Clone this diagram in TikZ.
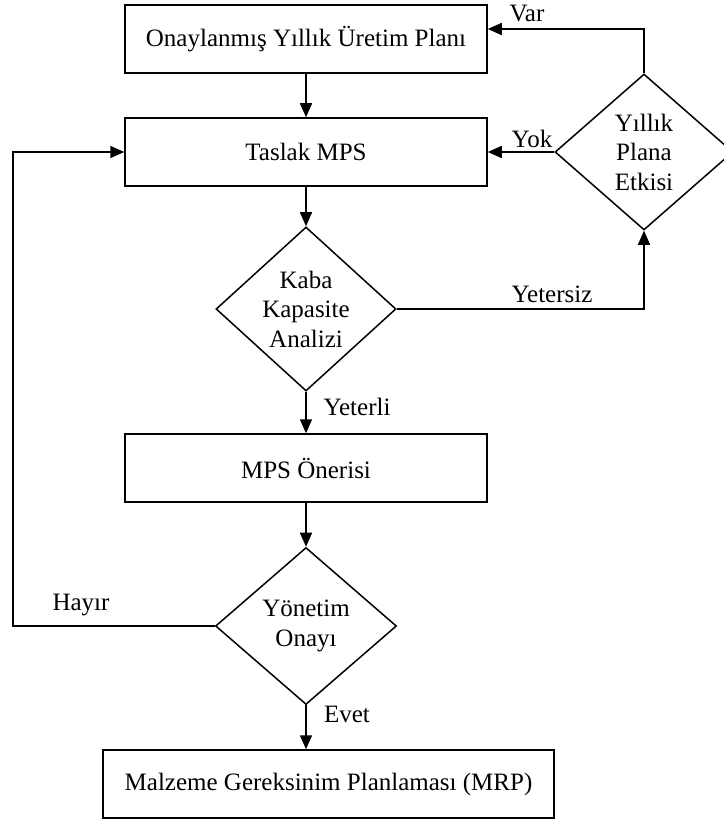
\documentclass[tikz,border=0pt]{standalone}
\usepackage{fontspec}
\setmainfont{Liberation Serif}
\usetikzlibrary{arrows.meta,shapes.geometric}

\tikzset{
  kutu/.style={draw, line width=1.5pt, minimum width=362pt, minimum height=68pt, inner sep=0pt},
  karar/.style={draw, diamond, line width=1.5pt, inner sep=0pt, align=center},
  ok/.style={line width=1.5pt, -{Triangle[length=14pt,width=12pt]}},
  etiket/.style={anchor=base, inner sep=0pt}
}

\begin{document}
\begin{tikzpicture}[x=1pt, y=-1pt, font=\fontsize{25}{29.5}\selectfont]
            \useasboundingbox (0,0) rectangle (723,821);

            \node[kutu] (plan) at (306,39) {Onaylanmış Yıllık Üretim Planı};
            \node[kutu] (taslak) at (306,152) {Taslak MPS};
            \node[karar, minimum width=180pt, minimum height=158pt] (kaba) at (306,309) {Kaba\\Kapasite\\Analizi};
            \node[kutu] (oneri) at (306,468) {MPS Önerisi};
            \node[karar, minimum width=181pt, minimum height=157pt] (yonetim) at (306,626) {Yönetim\\Onayı};
            \node[kutu, minimum width=451pt, minimum height=68pt] (mrp) at (328.5,784) {Malzeme Gereksinim Planlaması (MRP)};
            \node[karar, minimum width=178pt, minimum height=156pt] (etki) at (644,152) {Yıllık\\Plana\\Etkisi};
            \coordinate (donus) at (13,626);

            \draw[ok] (plan) -- (taslak);
            \draw[ok] (taslak) -- (kaba);
            \draw[ok] (kaba) -- (oneri);
            \draw[ok] (oneri) -- (yonetim);
            \draw[ok] (yonetim.south) -- (yonetim.south |- mrp.north);
            \draw[ok] (kaba.east) -| (etki.south);
            \draw[ok] (etki.west) -- (taslak.east);
            \draw[ok] (etki.north) |- ([yshift=10pt]plan.east);
            \draw[ok] (yonetim.west) -- (donus) |- (taslak.west);

            \node[etiket] (var) at (527,22) {Var};
            \node[etiket] (yok) at (532,148) {Yok};
            \node[etiket] (yetersiz) at (552,302) {Yetersiz};
            \node[etiket] (yeterli) at (357,415) {Yeterli};
            \node[etiket] (hayir) at (81,610) {Hayır};
            \node[etiket] (evet) at (347,722) {Evet};
        \end{tikzpicture}
\end{document}
